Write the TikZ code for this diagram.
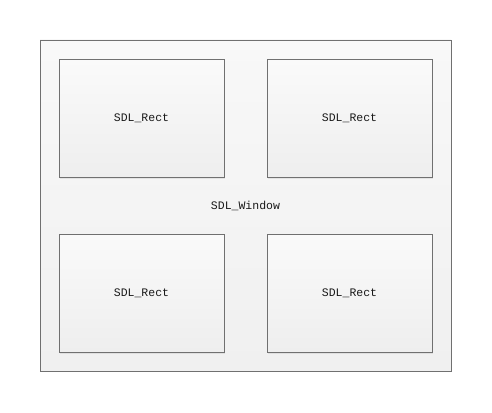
\documentclass[tikz,border=0pt]{standalone}
\usepackage{fontspec}
\setmonofont{Liberation Mono}
\usetikzlibrary{shadows}
\definecolor{edge}{HTML}{707070}
\definecolor{topc}{HTML}{FAFAFA}
\definecolor{botc}{HTML}{EEEEEE}
\definecolor{wtop}{HTML}{F8F8F8}
\definecolor{wbot}{HTML}{F0F0F0}
\tikzset{
  lbl/.style={font=\ttfamily\fontsize{11.5}{13}\selectfont, text=black!90},
  win/.style={lbl, draw=edge, line width=0.8pt, top color=wtop, bottom color=wbot,
    inner sep=0pt, minimum width=411pt, minimum height=331pt},
  rectbox/.style={lbl, draw=edge, line width=0.8pt, top color=topc, bottom color=botc,
    drop shadow={shadow xshift=1pt, shadow yshift=-1pt, opacity=0.15},
    inner sep=0pt, minimum width=165pt, minimum height=118pt}
}
\begin{document}
\begin{tikzpicture}[x=1pt,y=-1pt]
\useasboundingbox (0,0) rectangle (492,412);
\fill[white] (0,0) rectangle (492,412);
\node[win] (window) at (245.5,205.5) {SDL\_Window};
\node[rectbox] (r1) at (141.5,118.5) {SDL\_Rect};
\node[rectbox] (r2) at (349.5,118.5) {SDL\_Rect};
\node[rectbox] (r3) at (141.5,293.5) {SDL\_Rect};
\node[rectbox] (r4) at (349.5,293.5) {SDL\_Rect};
\end{tikzpicture}
\end{document}
